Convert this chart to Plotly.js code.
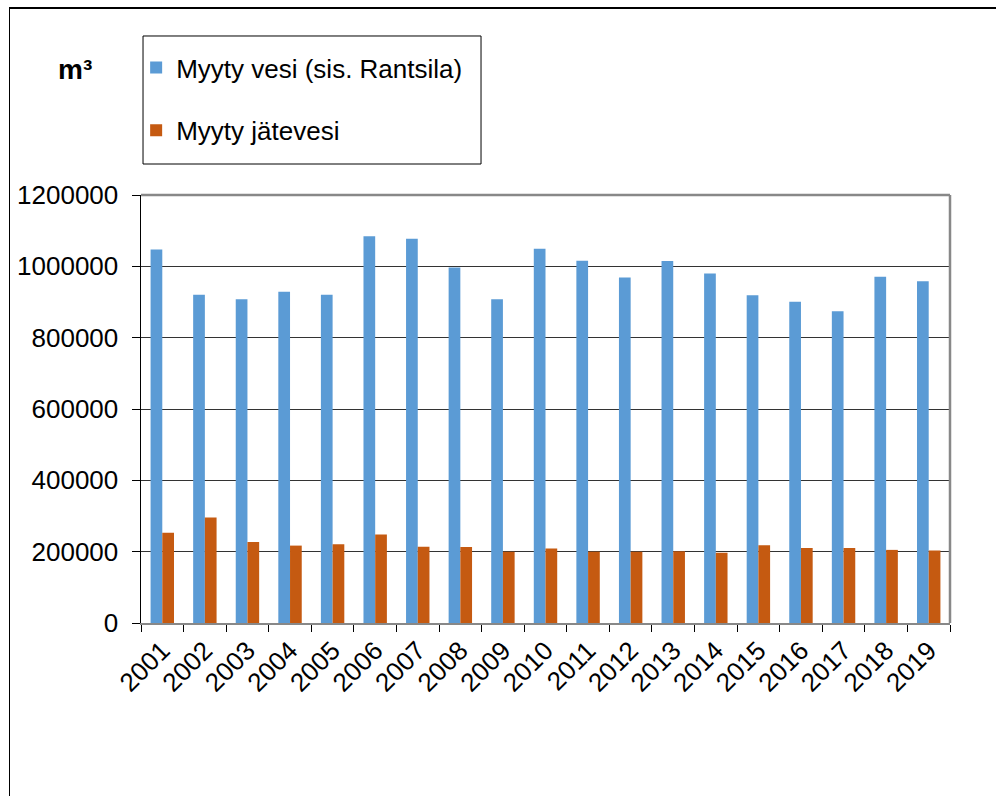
<!DOCTYPE html>
<html>
<head>
<meta charset="utf-8">
<script src="https://cdn.plot.ly/plotly-3.0.1.min.js"></script>
<style>
  html, body { margin: 0; padding: 0; background: #fff; }
  #frame { position: absolute; left: 0; top: 0; width: 996px; height: 796px; }
  #border { position: absolute; left: 9px; top: 7px; width: 990px; height: 800px;
            border-left: 1.5px solid #000; border-top: 2px solid #000; pointer-events: none; }
  #chart { position: absolute; left: 0; top: 0; width: 996px; height: 796px; }
</style>
</head>
<body>
<div id="frame">
  <div id="chart"></div>
  <div id="border"></div>
</div>
<script>
const years = ['2001','2002','2003','2004','2005','2006','2007','2008','2009','2010',
               '2011','2012','2013','2014','2015','2016','2017','2018','2019'];
const soldWater = [1047000, 920000, 908000, 929000, 920000, 1084000, 1077000, 997000, 908000, 1049000,
                   1016000, 969000, 1015000, 980000, 919000, 901000, 874000, 971000, 958000];
const soldWastewater = [253000, 296000, 227000, 217000, 221000, 248000, 214000, 213000, 200000, 209000,
                        200000, 200000, 201000, 197000, 218000, 210000, 210000, 205000, 203000];
const seriesNames = ['Myyty vesi (sis. Rantsila)', 'Myyty jätevesi'];
const yTicks = [0, 200000, 400000, 600000, 800000, 1000000, 1200000];
const unitLabel = '<b>m³</b>';

const font = 'Liberation Sans, Arial, sans-serif';

const traces = [
  { type: 'bar', x: years, y: soldWater, name: seriesNames[0], legendgroup: 'a',
    marker: { color: '#5B9BD5', line: { width: 0 } } },
  { type: 'bar', x: years, y: soldWastewater, name: seriesNames[1], legendgroup: 'b',
    marker: { color: '#C55A11', line: { width: 0 } } }
];

const layout = {
  width: 996, height: 796,
  margin: { l: 141, r: 46, t: 195, b: 173, pad: 0 },
  paper_bgcolor: '#fff', plot_bgcolor: '#fff',
  font: { family: font, size: 26, color: '#000' },
  barmode: 'group', bargap: 0.45, bargroupgap: 0,
  showlegend: true,
  legend: {
    x: -0.006, xanchor: 'left', y: 1.3528, yanchor: 'top',
    borderwidth: 0, bgcolor: 'rgba(0,0,0,0)',
    font: { family: font, size: 26, color: '#000' },
    traceorder: 'grouped', tracegroupgap: 26,
    itemclick: false
  },
  xaxis: {
    type: 'category', tickangle: -45, tickson: 'boundaries',
    ticks: 'outside', ticklen: 7, tickcolor: '#000', tickwidth: 1,
    showline: true, linecolor: '#888', linewidth: 2, mirror: false,
    showgrid: false, tickfont: { family: font, size: 26, color: '#000' }
  },
  yaxis: {
    range: [0, 1200000], tickvals: yTicks, ticktext: yTicks.map(String),
    ticks: 'outside', ticklen: 8, tickcolor: '#000', tickwidth: 1,
    showline: true, linecolor: '#000', linewidth: 1.5,
    showgrid: true, gridcolor: '#333', gridwidth: 1,
    zeroline: false, ticklabelstandoff: 8,
    tickfont: { family: font, size: 26, color: '#000' }
  },
  shapes: [
    { type: 'line', xref: 'paper', yref: 'paper', x0: 0, x1: 1, y0: 1, y1: 1,
      line: { color: '#888', width: 2.5 } },
    { type: 'line', xref: 'paper', yref: 'paper', x0: 1, x1: 1, y0: 0, y1: 1,
      line: { color: '#888', width: 2.5 } },
    { type: 'rect', xref: 'paper', yref: 'paper', x0: 0.0025, x1: 0.4203, y0: 1.0724, y1: 1.3715,
      line: { color: '#000', width: 1 }, fillcolor: 'rgba(0,0,0,0)' }
  ],
  annotations: [
    { text: unitLabel, xref: 'paper', yref: 'paper', x: -0.0816, y: 1.294,
      xanchor: 'center', yanchor: 'middle', showarrow: false,
      font: { family: font, size: 28, color: '#000' } }
  ]
};

Plotly.newPlot('chart', traces, layout, { displayModeBar: false, staticPlot: true });
</script>
</body>
</html>
